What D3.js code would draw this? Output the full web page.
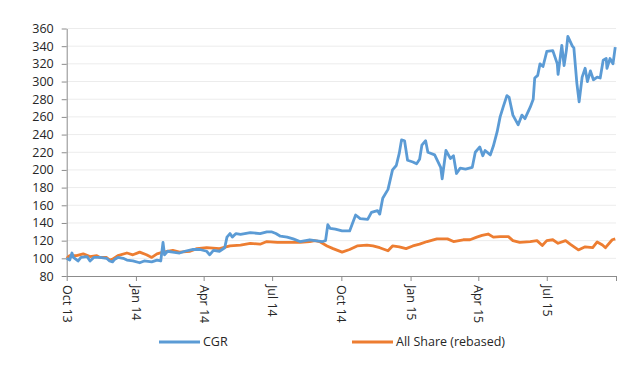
<!DOCTYPE html>
<html>
<head>
<meta charset="utf-8">
<script src="https://cdn.jsdelivr.net/npm/d3@7"></script>
<style>
  body { margin: 0; background: #fff; }
  text { font-family: "Open Sans", sans-serif; }
</style>
</head>
<body>
<div id="chart"></div>
<script>
// series data
var cgrDates = ["2013-10-01","2013-10-05","2013-10-08","2013-10-10","2013-10-16","2013-10-20","2013-10-28","2013-11-01","2013-11-06","2013-11-14","2013-11-23","2013-11-27","2013-12-01","2013-12-04","2013-12-08","2013-12-15","2013-12-20","2013-12-28","2014-01-06","2014-01-12","2014-01-22","2014-01-29","2014-02-03","2014-02-06","2014-02-08","2014-02-12","2014-02-19","2014-02-28","2014-03-07","2014-03-18","2014-03-27","2014-04-05","2014-04-09","2014-04-14","2014-04-22","2014-04-29","2014-05-02","2014-05-06","2014-05-09","2014-05-14","2014-05-20","2014-06-02","2014-06-15","2014-06-24","2014-06-30","2014-07-06","2014-07-12","2014-07-21","2014-07-29","2014-08-07","2014-08-20","2014-08-27","2014-09-06","2014-09-10","2014-09-13","2014-09-16","2014-09-23","2014-10-02","2014-10-12","2014-10-16","2014-10-20","2014-10-26","2014-11-05","2014-11-10","2014-11-18","2014-11-21","2014-11-25","2014-12-02","2014-12-08","2014-12-13","2014-12-17","2014-12-20","2014-12-24","2014-12-28","2015-01-04","2015-01-09","2015-01-13","2015-01-16","2015-01-21","2015-01-24","2015-02-02","2015-02-06","2015-02-10","2015-02-12","2015-02-17","2015-02-23","2015-02-27","2015-03-03","2015-03-08","2015-03-15","2015-03-24","2015-03-28","2015-04-03","2015-04-07","2015-04-10","2015-04-17","2015-04-21","2015-04-26","2015-04-30","2015-05-04","2015-05-09","2015-05-12","2015-05-17","2015-05-24","2015-05-29","2015-06-02","2015-06-09","2015-06-13","2015-06-15","2015-06-19","2015-06-22","2015-06-26","2015-07-01","2015-07-09","2015-07-15","2015-07-16","2015-07-21","2015-07-24","2015-07-27","2015-07-29","2015-08-04","2015-08-06","2015-08-10","2015-08-13","2015-08-17","2015-08-21","2015-08-24","2015-08-28","2015-09-01","2015-09-06","2015-09-10","2015-09-14","2015-09-18","2015-09-19","2015-09-23","2015-09-27","2015-09-30"];
var cgrValues = [100,98,106,101,97,101,102,97,101,101,100,97,96,99,101,100,98,97,95,97,96,98,97,118,104,108,107,106,108,110,110,108,104,109,108,112,124,128,124,128,127,129,128,130,130,128,125,124,122,119,121,120,119,120,138,134,133,131,131,140,149,145,144,152,154,150,168,178,200,205,219,234,233,211,209,207,212,228,233,220,217,210,203,190,222,213,216,196,202,201,203,220,226,216,222,217,227,243,260,271,284,282,262,251,262,258,271,280,304,307,320,317,334,335,320,308,341,318,335,351,340,338,298,277,305,315,300,312,302,305,304,324,326,315,326,320,339];

var allDates = ["2013-10-01","2013-10-05","2013-10-14","2013-10-23","2013-11-01","2013-11-10","2013-11-14","2013-11-23","2013-11-27","2013-12-01","2013-12-08","2013-12-20","2013-12-28","2014-01-06","2014-01-15","2014-01-22","2014-01-29","2014-02-06","2014-02-19","2014-02-28","2014-03-14","2014-03-23","2014-04-05","2014-04-22","2014-05-06","2014-05-20","2014-06-02","2014-06-15","2014-06-24","2014-07-08","2014-07-21","2014-08-07","2014-08-20","2014-08-27","2014-09-02","2014-09-12","2014-09-20","2014-10-02","2014-10-12","2014-10-22","2014-11-04","2014-11-12","2014-11-21","2014-12-02","2014-12-08","2014-12-17","2014-12-26","2015-01-04","2015-01-13","2015-01-23","2015-02-05","2015-02-19","2015-02-27","2015-03-12","2015-03-21","2015-03-30","2015-04-06","2015-04-14","2015-04-21","2015-04-30","2015-05-11","2015-05-17","2015-05-26","2015-06-09","2015-06-18","2015-06-25","2015-07-01","2015-07-09","2015-07-16","2015-07-26","2015-08-01","2015-08-12","2015-08-21","2015-08-31","2015-09-06","2015-09-13","2015-09-17","2015-09-26","2015-09-30"];
var allValues = [100,103,103,105,102,103,101,101,98,99,103,106,104,107,104,101,105,107,109,107,108,111,112,111,114,115,117,116,119,118,118,118,119,120,119,114,111,107,110,114,115,114,112,108.5,114,113,111,114,116,119,122,122,119,121,121,124,126,127.5,124,124.5,124.5,120,118,119,120,114.5,120,121,117,120,116,109.5,113,112,118.5,115,112,121,122];

var yTicks = [80,100,120,140,160,180,200,220,240,260,280,300,320,340,360];
var xTickLabels = ["Oct 13","Jan 14","Apr 14","Jul 14","Oct 14","Jan 15","Apr 15","Jul 15",""];
var seriesNames = ["CGR", "All Share (rebased)"];
var seriesColors = ["#5b9bd5", "#ed7d31"];

var W = 629, H = 372;
var plotLeft = 66.7, plotRight = 616, plotTop = 28.5, plotBottom = 276;
var textColor = "#262626";

var parse = d3.timeParse("%Y-%m-%d");

var cgr = cgrDates.map(function (d, i) { return { date: parse(d), value: cgrValues[i] } });
var allShare = allDates.map(function (d, i) { return { date: parse(d), value: allValues[i] } });

var svg = d3.select("#chart").append("svg")
  .attr("width", W)
  .attr("height", H);

svg.append("rect").attr("width", W).attr("height", H).attr("fill", "#fff");

var x = d3.scaleTime()
  .domain([parse("2013-10-01"), parse("2015-10-01")])
  .range([plotLeft, plotRight]);

var y = d3.scaleLinear()
  .domain([80, 360])
  .range([plotBottom, plotTop]);

// gridlines
svg.append("g")
  .selectAll("line")
  .data(yTicks.slice(1))
  .enter().append("line")
  .attr("x1", plotLeft).attr("x2", plotRight)
  .attr("y1", function (d) { return y(d) })
  .attr("y2", function (d) { return y(d) })
  .attr("stroke", "#ececec")
  .attr("stroke-width", 1);

// y axis
var yAxis = svg.append("g")
  .attr("transform", "translate(" + plotLeft + ",0)")
  .call(d3.axisLeft(y).tickValues(yTicks).tickSize(5).tickSizeOuter(0).tickPadding(8));
yAxis.select(".domain").attr("stroke", "#8c8c8c");
yAxis.selectAll(".tick line").attr("stroke", "#8c8c8c");
yAxis.selectAll("text").attr("font-size", 12.5).attr("fill", textColor).attr("font-family", "Open Sans");

// x axis
var xTickDates = d3.timeMonth.every(3).range(parse("2013-10-01"), parse("2015-10-02"));
var xAxis = svg.append("g")
  .attr("transform", "translate(0," + plotBottom + ")")
  .call(d3.axisBottom(x).tickValues(xTickDates).tickSize(5).tickSizeOuter(0)
    .tickFormat(function (d, i) { return xTickLabels[i] }));
xAxis.select(".domain").attr("stroke", "#8c8c8c");
xAxis.selectAll(".tick line").attr("stroke", "#8c8c8c");
xAxis.selectAll("text")
  .attr("font-size", 12.5)
  .attr("fill", textColor)
  .attr("font-family", "Open Sans")
  .attr("text-anchor", "start")
  .attr("x", 0).attr("y", 0)
  .attr("dy", "0.35em")
  .attr("transform", "translate(0,9) rotate(90)");

// lines
var line = d3.line()
  .x(function (d) { return x(d.date) })
  .y(function (d) { return y(d.value) });

svg.append("path")
  .datum(allShare)
  .attr("fill", "none")
  .attr("stroke", seriesColors[1])
  .attr("stroke-width", 2.8)
  .attr("stroke-linejoin", "round")
  .attr("d", line);

svg.append("path")
  .datum(cgr)
  .attr("fill", "none")
  .attr("stroke", seriesColors[0])
  .attr("stroke-width", 2.8)
  .attr("stroke-linejoin", "round")
  .attr("d", line);

// legend
var legendX = [159, 352];
var legend = svg.append("g")
  .selectAll("g")
  .data(seriesNames)
  .enter().append("g")
  .attr("transform", function (d, i) { return "translate(" + legendX[i] + ",342)" });
legend.append("line")
  .attr("x1", 0).attr("x2", 41)
  .attr("stroke", function (d, i) { return seriesColors[i] })
  .attr("stroke-width", 2.8);
legend.append("text")
  .attr("x", 44)
  .attr("dy", "0.35em")
  .attr("font-size", 12.5)
  .attr("fill", textColor)
  .text(function (d) { return d });
</script>
</body>
</html>
